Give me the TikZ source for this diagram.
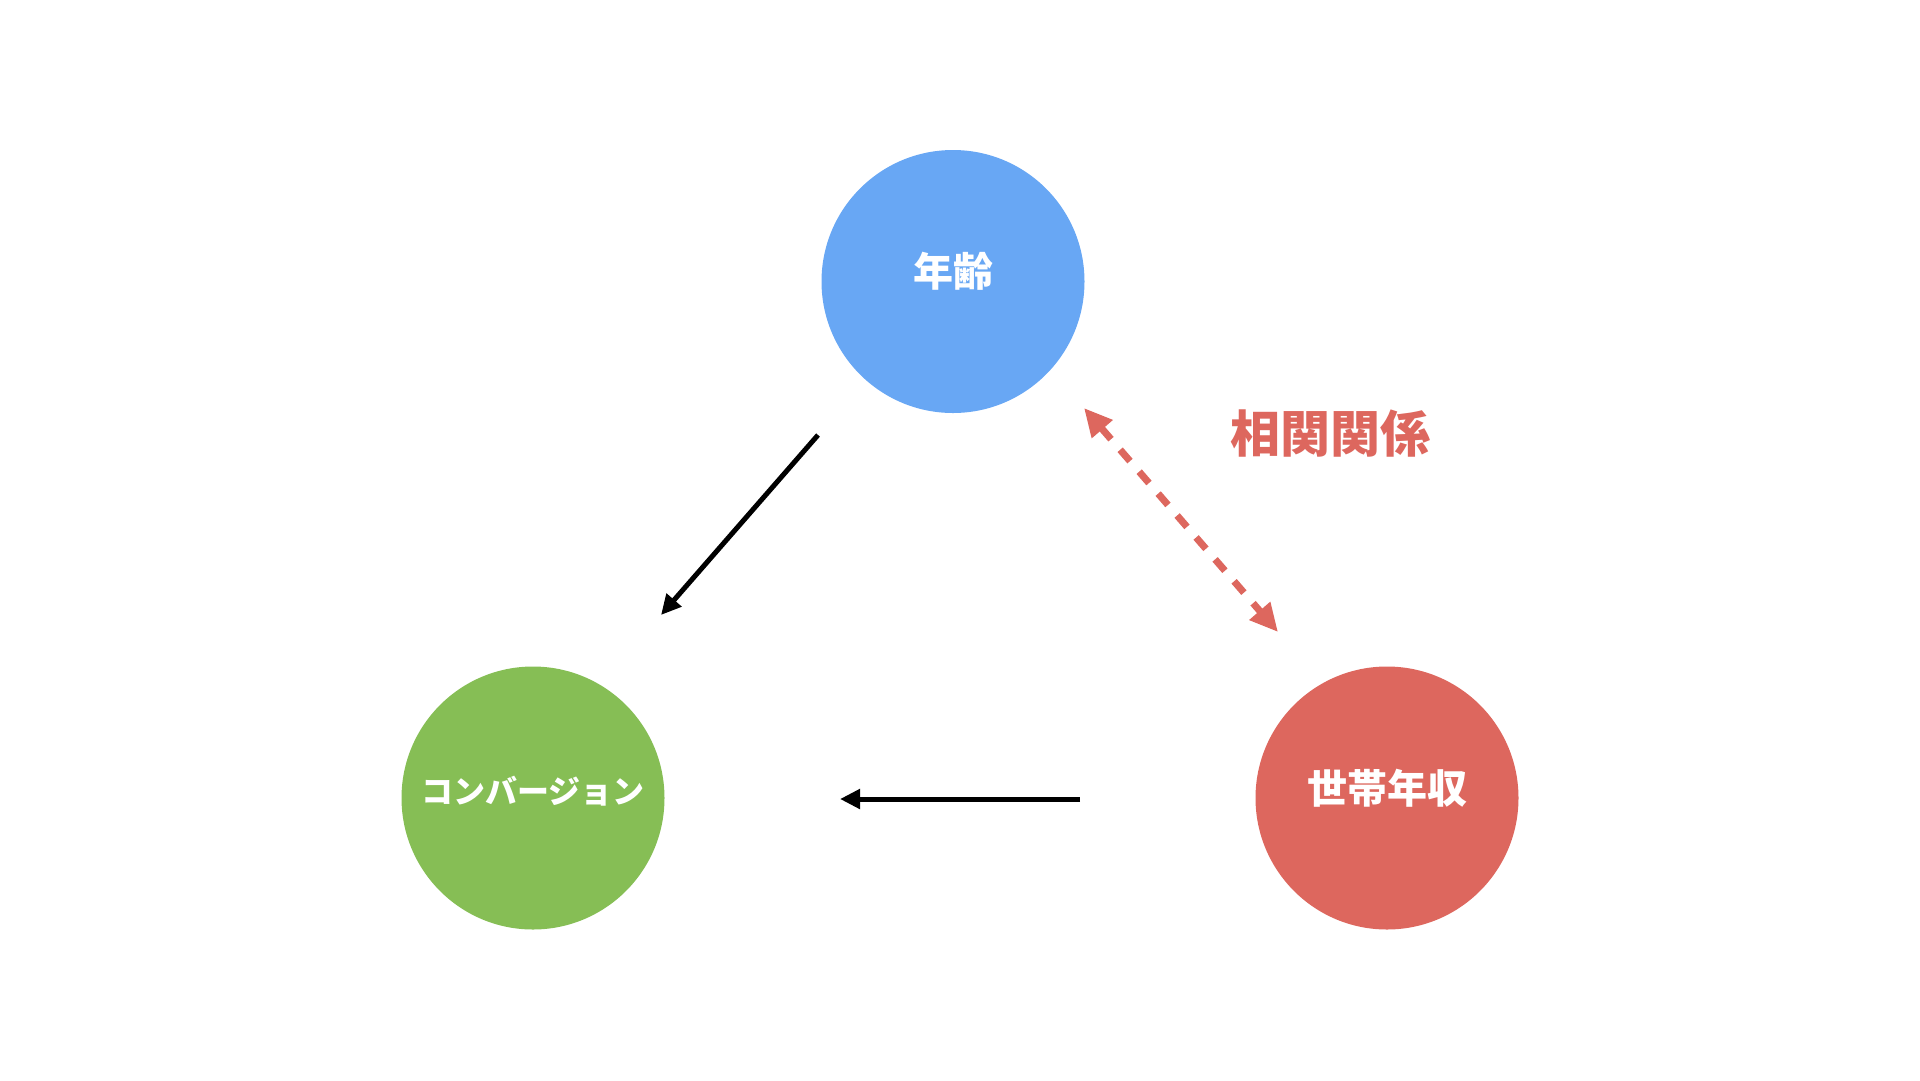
\documentclass[tikz,border=0pt]{standalone}
\usepackage{fontspec}
\usepackage{xcolor}
\usepackage{tikz}
\usetikzlibrary{arrows.meta}
\newfontfamily\jpfont{Noto Sans CJK JP}
\definecolor{ageblue}{HTML}{68A7F4}
\definecolor{convgreen}{HTML}{86BE55}
\definecolor{incred}{HTML}{DD675E}
\tikzset{>=stealth,
  ball/.style={circle,minimum size=263pt,inner sep=0pt},
  lbl/.style={white,font=\jpfont\bfseries\fontsize{40}{40}\selectfont},
  causal/.style={line width=5pt,-{Triangle[length=20pt,width=19pt]}},
  corr/.style={incred,line width=7pt,dash pattern=on 15pt off 14pt,
    {Triangle[length=28pt,width=26pt]}-{Triangle[length=28pt,width=26pt]}}}

\begin{document}
\begin{tikzpicture}[x=1pt,y=-1pt]
    \useasboundingbox (0,0) rectangle (1920,1080);
    \node[ball,fill=ageblue] (age) at (953, 281.5) {};
    \node[ball,fill=convgreen] (conv) at (533, 798) {};
    \node[ball,fill=incred] (income) at (1387, 798) {};
    \node[lbl] (agetxt) at (953, 271) {年齢};
    \node[lbl,font=\jpfont\bfseries\fontsize{32}{32}\selectfont] (convtxt) at (533, 791) {コンバージョン};
    \node[lbl] (inctxt) at (1387, 788) {世帯年収};
    \node[incred,font=\jpfont\bfseries\fontsize{50}{50}\selectfont] (corrtxt) at (1330, 433) {相関関係};
    % free ends of the arrows
    \coordinate (a1) at (818, 435);
    \coordinate (a2) at (661, 615);
    \coordinate (b1) at (1080, 799);
    \coordinate (b2) at (840, 799);
    \coordinate (c1) at (1084, 408);
    \coordinate (c2) at (1278, 632);
    \draw[causal] (a1)--(a2);
    \draw[causal] (b1)--(b2);
    \draw[corr] (c1)--(c2);
\end{tikzpicture}
\end{document}
